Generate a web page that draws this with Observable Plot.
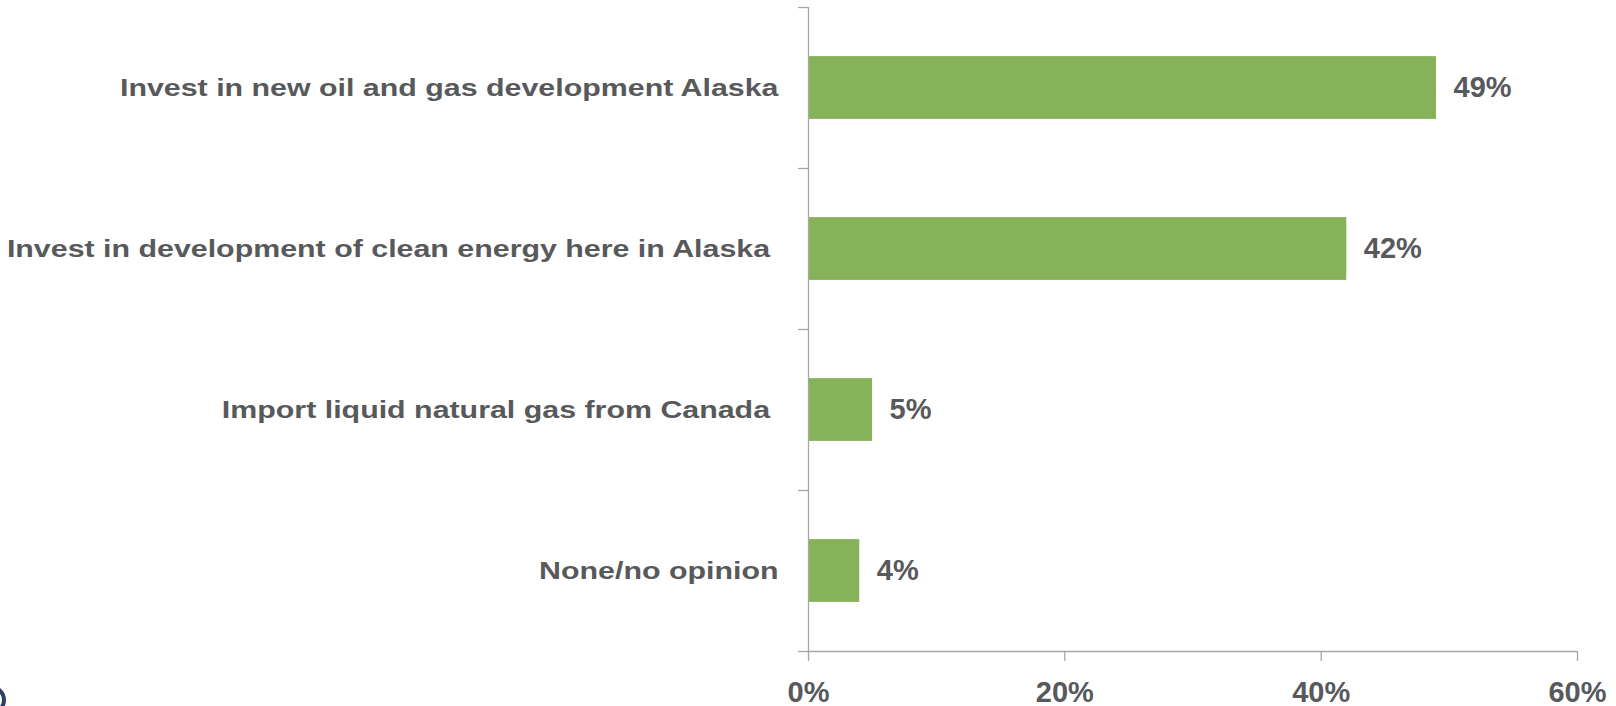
<!DOCTYPE html>
<html><head><meta charset="utf-8">
<script src="https://cdn.jsdelivr.net/npm/d3@7"></script>
<script src="https://cdn.jsdelivr.net/npm/@observablehq/plot@0.6"></script>
<style>
html,body{margin:0;padding:0;background:#fff;overflow:hidden}
#chart{position:relative;width:1616px;height:706px}
#logo{position:absolute;left:-24px;top:685px;width:30px;height:30px;border-radius:50%;border:4px solid #2b3f68;box-sizing:border-box}
#chart svg text{white-space:pre}
</style></head><body><div id="chart"><div id="logo"></div></div>
<script>
const categories = [
  "Invest in new oil and gas development Alaska",
  "Invest in development of clean energy here in Alaska ",
  "Import liquid natural gas from Canada ",
  "None/no opinion"
];
const values = [49, 42, 5, 4];
const xTicks = [0, 20, 40, 60];
const tickLabels = ["0%", "20%", "40%", "60%"];

const data = categories.map((c, i) => ({category: c, value: values[i], i}));
const n = categories.length;

const plot = Plot.plot({
  width: 1616, height: 706,
  marginLeft: 808, marginRight: 39, marginTop: 7, marginBottom: 55,
  style: {fontFamily: "'Liberation Sans', Arial, sans-serif", fontWeight: "bold", color: "#595959", background: "#fff", overflow: "visible"},
  x: {domain: [0, 60]},
  y: {domain: [0, n], reverse: true},
  marks: [
    Plot.rectX(data, {x1: 0, x2: "value", y1: d => d.i + 0.305, y2: d => d.i + 0.695, fill: "#86B35A"}),
    Plot.ruleX([0], {stroke: "#a6a6a6", strokeWidth: 1.3}),
    Plot.ruleY([n], {stroke: "#a6a6a6", strokeWidth: 1.3}),
    Plot.axisY(d3.range(n + 1), {tickSize: 10, tickFormat: () => "", stroke: "#a6a6a6", strokeWidth: 1.3, label: null}),
    Plot.axisY(d3.range(n).map(i => i + 0.5), {tickSize: 0, tickPadding: 30, tickFormat: v => categories[Math.floor(v)], fontSize: 24.5, fill: "#58595b", label: null}),
    Plot.axisX(xTicks, {tickSize: 10, tickPadding: 20, tickFormat: v => tickLabels[xTicks.indexOf(v)], fontSize: 29, stroke: "#a6a6a6", strokeWidth: 1.3, fill: "#58595b", label: null}),
    Plot.text(data, {x: "value", y: d => d.i + 0.5, text: d => d.value + "%", dx: 17, textAnchor: "start", fontSize: 29, fill: "#58595b"})
  ]
});

document.getElementById("chart").appendChild(plot);

plot.querySelectorAll('g[aria-label="y-axis tick label"] text').forEach(t => {
  const tr = t.getAttribute("transform") || "";
  const x = +t.getAttribute("x") || 0, y = +t.getAttribute("y") || 0;
  t.setAttribute("transform", `${tr} translate(${x},${y}) scale(1.24,1) translate(${-x},${-y})`);
});
</script>
</body></html>
